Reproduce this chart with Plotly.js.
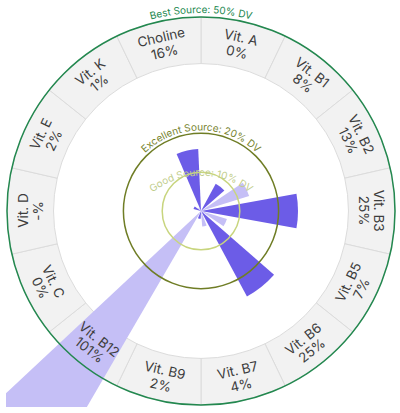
<!DOCTYPE html>
<html><head><meta charset="utf-8">
<script src="https://cdn.plot.ly/plotly-3.0.1.min.js"></script>
<style>html,body{margin:0;padding:0;background:#fff;} #chart{width:400px;height:413px;}</style>
</head><body><div id="chart"></div>
<script>
// ---- data ----
var categories = ['Vit. A','Vit. B1','Vit. B2','Vit. B3','Vit. B5','Vit. B6','Vit. B7','Vit. B9','Vit. B12','Vit. C','Vit. D','Vit. E','Vit. K','Choline'];
var values = [0, 8, 13, 25, 7, 25, 4, 2, 101, 0, null, 2, 1, 16];
var thresholdValues = [10, 20, 50];
var thresholdLabels = ['Good Source: 10% DV', 'Excellent Source: 20% DV', 'Best Source: 50% DV'];
var ringInner = 38, ringOuter = 50;

// ---- geometry / style ----
var W = 400, H = 413, M = {l: 7, r: 5, t: 16, b: 7};
var pw = W - M.l - M.r, ph = H - M.t - M.b, Rpx = Math.min(pw, ph) / 2;
var n = categories.length, step = 360 / n;
var theta = categories.map(function (c, i) { return Math.round((i + 0.5) * step * 1e6) / 1e6; });
var dark = '#6c5ce7', light = '#c5bff6';
var colors = values.map(function (v, i) { return i % 2 ? dark : light; });
var widths = values.map(function (v, i) { return i % 2 ? step * 0.8 : step * 0.65; });
var FONT = 'Inter, "Open Sans", sans-serif';
var greenBest = '#23884f', oliveCol = '#6f7d25', oliveText = '#77842f', goodCol = '#c8d57e', goodText = '#bfcd8c';

var data = [
  {type: 'barpolar', r: categories.map(function () { return ringOuter - ringInner; }), base: ringInner,
   theta: theta, width: step, marker: {color: '#f2f2f2', line: {color: '#dcdcdc', width: 1}}, hoverinfo: 'skip'},
  {type: 'barpolar', r: values, theta: theta, width: widths, marker: {color: colors, line: {width: 0}}, hoverinfo: 'skip'},
  {type: 'scatterpolar', r: [0], theta: [0], mode: 'lines', cliponaxis: false, hoverinfo: 'skip'},
  {type: 'scatterpolar', subplot: 'polar2', r: [0], theta: [0], mode: 'lines', hoverinfo: 'skip'},
  {type: 'scatterpolar', subplot: 'polar3', r: [0], theta: [0], mode: 'lines', hoverinfo: 'skip'}
];

function ringPolar(tv, col) {
  return {
    domain: {x: [0, 1], y: [0, 1]}, bgcolor: 'rgba(0,0,0,0)',
    radialaxis: {range: [0, ringOuter], tickvals: [tv], showgrid: true, gridcolor: col, gridwidth: 1.5,
                 showticklabels: false, ticks: '', showline: false},
    angularaxis: {visible: false, rotation: 90, direction: 'clockwise'}
  };
}

// two annotations per cell (name line + value line) so the line spacing can match
var annotations = [];
var lineGap = 7.5;
categories.forEach(function (c, i) {
  var th = theta[i], rad = th * Math.PI / 180;
  var R = ((ringInner + ringOuter) / 2) / ringOuter * Rpx;
  var bottomHalf = (th > 90 && th < 270);
  var ang = bottomHalf ? th - 180 : (th >= 270 ? th - 360 : th);
  var lab = values[i] === null ? '-%' : values[i] + '%';
  var rName = bottomHalf ? R - lineGap : R + lineGap;
  var rVal = bottomHalf ? R + lineGap : R - lineGap;
  [[c, rName], [lab, rVal]].forEach(function (pair) {
    annotations.push({xref: 'paper', yref: 'paper',
      x: 0.5 + pair[1] * Math.sin(rad) / pw, y: 0.5 + pair[1] * Math.cos(rad) / ph,
      text: pair[0], showarrow: false, textangle: ang, xanchor: 'center', yanchor: 'middle',
      font: {family: FONT, size: 13.5, color: '#3d3d3d'}});
  });
});

var layout = {
  width: W, height: H, margin: M, showlegend: false,
  paper_bgcolor: '#fff',
  polar: {
    domain: {x: [0, 1], y: [0, 1]}, bgcolor: '#fff', barmode: 'overlay', hole: 0,
    radialaxis: {range: [0, ringOuter], visible: false, showgrid: false},
    angularaxis: {rotation: 90, direction: 'clockwise', showgrid: false, showticklabels: false, ticks: '',
                  showline: true, linecolor: greenBest, linewidth: 1.5}
  },
  polar2: ringPolar(thresholdValues[0], goodCol),
  polar3: ringPolar(thresholdValues[1], oliveCol),
  annotations: annotations
};

var gd = document.getElementById('chart');
Plotly.newPlot(gd, data, layout, {staticPlot: true, displayModeBar: false}).then(function () {
  var NS = 'http://www.w3.org/2000/svg';
  var svgs = gd.querySelectorAll('svg.main-svg');
  var main = svgs[0], top = svgs[svgs.length - 1];
  var cx = M.l + pw / 2, cy = M.t + ph / 2;
  // let bars overflow the polar circle, but clip them to the plot area
  var defs = document.createElementNS(NS, 'defs');
  var cp = document.createElementNS(NS, 'clipPath'); cp.setAttribute('id', 'plotAreaClip');
  var rect = document.createElementNS(NS, 'rect');
  rect.setAttribute('x', M.l - 1); rect.setAttribute('y', M.t); rect.setAttribute('width', pw + 2); rect.setAttribute('height', ph + 1);
  cp.appendChild(rect); defs.appendChild(cp); main.appendChild(defs);
  var gp = main.querySelector('g.polar');
  if (gp) {
    gp.querySelectorAll('[clip-path]').forEach(function (el) { el.removeAttribute('clip-path'); });
    gp.setAttribute('clip-path', 'url(#plotAreaClip)');
  }
  // curved threshold labels
  var g = document.createElementNS(NS, 'g');
  top.appendChild(g);
  function arcText(id, acx, acy, R, text, size, color) {
    var p = document.createElementNS(NS, 'path');
    p.setAttribute('id', id);
    p.setAttribute('d', 'M' + (acx - R) + ',' + acy + ' A' + R + ',' + R + ' 0 0 1 ' + (acx + R) + ',' + acy);
    p.setAttribute('fill', 'none');
    g.appendChild(p);
    var t = document.createElementNS(NS, 'text');
    t.setAttribute('font-family', FONT); t.setAttribute('font-size', size); t.setAttribute('fill', color);
    t.setAttribute('text-anchor', 'middle');
    var tp = document.createElementNS(NS, 'textPath');
    tp.setAttribute('href', '#' + id);
    tp.setAttributeNS('http://www.w3.org/1999/xlink', 'xlink:href', '#' + id);
    tp.setAttribute('startOffset', '50%');
    tp.textContent = text;
    t.appendChild(tp); g.appendChild(t);
  }
  var k = Rpx / ringOuter;
  var goodTop = thresholdValues[0] * k - 3.5, goodR = 78;
  arcText('arcGood', cx, cy - goodTop + goodR, goodR, thresholdLabels[0], 10, goodText);
  arcText('arcExc', cx, cy, thresholdValues[1] * k + 3, thresholdLabels[1], 10, oliveText);
  arcText('arcBest', cx, cy, thresholdValues[2] * k + 4, thresholdLabels[2], 10, greenBest);
});
</script>
</body></html>
